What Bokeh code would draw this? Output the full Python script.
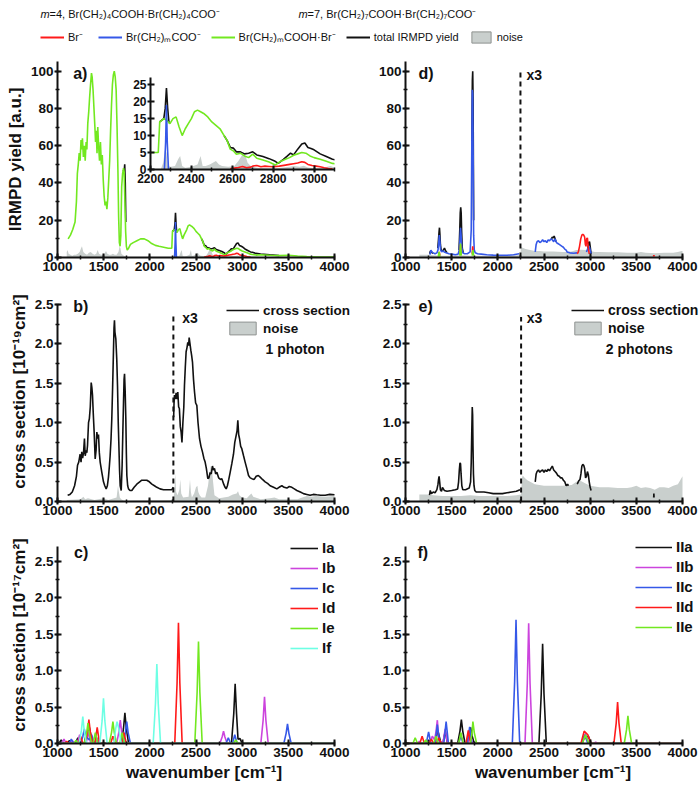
from bokeh.plotting import figure
from bokeh.models import (Range1d, SingleIntervalTicker, Label, Legend, LegendItem,
                          PrintfTickFormatter)
from bokeh.layouts import row, column
from bokeh.embed import file_html
from bokeh.resources import INLINE

# ------------------------------------------------------------------ data
# panel a) m=4 IRMPD yield (also shown in the inset)
A_GREEN_X = [1115, 1140, 1165, 1190, 1205, 1215, 1225, 1235, 1245, 1255,
             1262, 1270, 1280, 1290, 1300, 1310, 1318, 1328, 1338, 1348,
             1358, 1368, 1375, 1385, 1395, 1405, 1412, 1420, 1428, 1436,
             1445, 1455, 1465, 1475, 1485, 1495, 1505, 1515, 1525, 1535,
             1545, 1555, 1565, 1575, 1585, 1595, 1605, 1615, 1625, 1635,
             1645, 1655, 1662, 1670, 1678, 1686, 1695, 1705, 1715, 1722,
             1730, 1738, 1746, 1755, 1770, 1790, 1820, 1860, 1900, 1940,
             1980, 2020, 2060, 2100, 2150, 2200, 2238, 2245, 2255, 2265,
             2280, 2295, 2310, 2325, 2340, 2355, 2370, 2385, 2400, 2415,
             2430, 2445, 2460, 2480, 2500, 2520, 2540, 2560, 2575, 2590,
             2605, 2620, 2640, 2660, 2680, 2700, 2720, 2750, 2780, 2810,
             2830, 2860, 2880, 2900, 2920, 2940, 2960, 2980, 3000, 3030,
             3060, 3090, 3110, 3150, 3200, 3300, 3400, 3500, 3600, 3700,
             3800, 3900, 4000]
A_GREEN_Y = [10, 12, 15, 19, 30, 45, 50, 56, 52, 63,
             58, 64, 54, 60, 52, 62, 58, 72, 78, 86,
             93, 99, 97, 90, 80, 70, 62, 68, 56, 70,
             60, 52, 62, 50, 55, 42, 33, 28, 30, 26,
             32, 42, 52, 68, 82, 93, 98, 100, 97, 90,
             70, 45, 22, 8, 6, 12, 38, 45, 48, 46,
             30, 14, 6, 4, 5, 7, 8, 9, 10, 10,
             9, 7.5, 6.5, 6, 5.5, 5, 5, 14, 14.5, 15,
             14.5, 13.5, 15, 15.5, 12.5, 10, 12, 13.5, 15, 17,
             17.5, 17, 16.5, 15.5, 14, 13, 12, 10, 8.5, 6,
             5.5, 4.5, 4.8, 4, 3.5, 4.5, 3.3, 2.8, 2.2, 1.3,
             2.2, 3, 3.5, 4.2, 4.6, 5, 4.8, 4, 3.5, 3,
             2.4, 1.8, 1.6, 1.3, 1.5, 1.2, 1.0, 1.2, 0.8, 0.5,
             0.3, 0.3, 0.3]
A_TOTAL_X = [[1712, 1722, 1728, 1734, 1740],
             [2245, 2265, 2272, 2278, 2284, 2290, 2295],
             [2560, 2575, 2590, 2605, 2620, 2640, 2660, 2680, 2700, 2720, 2750, 2780,
              2810, 2825, 2850, 2870, 2885, 2900, 2920, 2940, 2955, 2970, 2985, 3000,
              3030, 3060, 3090, 3110, 3150, 3200, 3300, 3400]]
A_TOTAL_Y = [[47, 46, 50, 40, 19],
             [14, 15, 18, 24, 18, 14, 13.5],
             [10, 8.5, 6.5, 6.3, 5.2, 5.2, 4.6, 4.8, 5.2, 4.3, 3.8, 3.2,
              2.4, 1.8, 3, 4, 4.8, 4.3, 6, 7.5, 7.8, 6.5, 6.2, 5.8,
              4.6, 3.8, 3.0, 2.8, 2.2, 1.9, 1.4, 1.1]]
A_BLUE_X = [2268, 2274, 2278, 2282, 2288]
A_BLUE_Y = [0, 8, 19, 8, 0]
A_RED_X = [2590, 2610, 2630, 2650, 2670, 2690, 2700, 2720, 2740, 2760, 2780, 2800, 2830,
           2860, 2880, 2900, 2920, 2940, 2955, 2970, 2990, 3010, 3030, 3050, 3070, 3090]
A_RED_Y = [0.2, 0.4, 0.6, 0.9, 0.5, 0.7, 1.0, 1.2, 0.8, 1.0, 0.9, 0.8, 1.0,
           1.3, 1.5, 1.7, 1.9, 2.3, 2.1, 1.5, 1.2, 1.0, 0.8, 0.5, 0.3, 0.2]
A_NOISE_X = [1100, 1110, 1120, 1140, 1160, 1180, 1200, 1220, 1240, 1255,
             1265, 1280, 1300, 1320, 1340, 1360, 1380, 1400, 1420, 1435,
             1450, 1470, 1490, 1510, 1525, 1540, 1560, 1580, 1600, 1620,
             1640, 1660, 1672, 1682, 1692, 1705, 1720, 1740, 1760, 1800,
             2200, 2250, 2262, 2270, 2278, 2285, 2300, 2320, 2335, 2345,
             2355, 2370, 2400, 2430, 2445, 2455, 2470, 2490, 2505, 2520,
             2535, 2550, 2580, 2610, 2630, 2645, 2655, 2665, 2675, 2690,
             2720, 2760, 2800, 2850, 2880, 2900, 2930, 2950, 2970, 3000,
             3050, 3080, 3100, 3150, 3200, 3400, 3600, 3700, 3800, 3900,
             4000]
A_NOISE_Y = [3, 4, 2, 1.5, 1, 1.5, 1.5, 2, 3, 5,
             6, 3, 2, 1.5, 2.5, 3, 2, 1.5, 2, 4,
             2, 1.5, 1.5, 2, 3.5, 2, 1.5, 1.5, 2, 1.5,
             1.5, 3, 6, 5, 2, 1.5, 1, 0.5, 0.3, 0,
             0, 0, 2, 5.5, 5, 1, 0.8, 1, 3, 4,
             1, 0.5, 0.8, 1.5, 4, 1, 1, 1.5, 2, 2.5,
             1.5, 1, 0.8, 1, 2.5, 4, 5, 4, 2, 1,
             0.5, 0.4, 0.3, 0.6, 0.8, 1, 0.8, 1.1, 0.6, 0.4,
             0.6, 1, 0.6, 0.4, 0.3, 0.3, 0.5, 0.6, 0.8, 0.7,
             0.8]

# panel b) m=4 cross section (1 photon); part 2 is scaled x3
B1_X = [1110, 1135, 1160, 1185, 1205, 1217, 1230, 1245, 1255, 1263,
        1272, 1282, 1292, 1300, 1310, 1318, 1325, 1336, 1345, 1355,
        1365, 1372, 1379, 1388, 1397, 1408, 1418, 1426, 1435, 1444,
        1453, 1462, 1480, 1498, 1512, 1527, 1540, 1552, 1562, 1570,
        1580, 1588, 1597, 1606, 1612, 1617, 1622, 1632, 1642, 1650,
        1658, 1664, 1672, 1679, 1690, 1700, 1708, 1715, 1721, 1726,
        1733, 1740, 1746, 1751, 1760, 1769, 1785, 1805, 1830, 1859,
        1890, 1913, 1940, 1967, 1995, 2022, 2050, 2076, 2110, 2148,
        2190, 2238, 2255]
B1_Y = [0.08, 0.09, 0.12, 0.2, 0.32, 0.46, 0.5, 0.6, 0.5, 0.63,
        0.55, 0.62, 0.8, 0.58, 0.65, 0.62, 0.71, 1.0, 1.05, 1.2,
        1.51, 1.45, 1.35, 1.1, 0.88, 0.54, 0.65, 0.88, 0.8, 0.85,
        0.62, 0.5, 0.37, 0.25, 0.2, 0.16, 0.2, 0.31, 0.45, 0.58,
        0.8, 1.05, 1.45, 1.9, 2.2, 2.3, 2.15, 2.06, 1.8, 1.47,
        1.0, 0.75, 0.4, 0.2, 0.14, 0.46, 0.9, 1.26, 1.55, 1.62,
        1.4, 1.05, 0.6, 0.33, 0.2, 0.16, 0.14, 0.14, 0.18, 0.22,
        0.25, 0.27, 0.27, 0.27, 0.25, 0.22, 0.2, 0.18, 0.16, 0.15,
        0.15, 0.15, 0.18]
B2_X = [2258, 2262, 2267, 2275, 2285, 2295, 2303, 2312, 2320, 2330,
        2339, 2348, 2358, 2368, 2375, 2384, 2393, 2402, 2411, 2420,
        2426, 2435, 2444, 2453, 2462, 2473, 2484, 2496, 2509, 2522,
        2538, 2554, 2570, 2585, 2599, 2612, 2628, 2640, 2653, 2665,
        2678, 2689, 2700, 2713, 2726, 2745, 2765, 2780, 2800, 2815,
        2827, 2840, 2855, 2870, 2888, 2906, 2920, 2935, 2945, 2953,
        2962, 2971, 2984, 2996, 3015, 3032, 3050, 3069, 3087, 3105,
        3130, 3152, 3175, 3195, 3220, 3249, 3275, 3303, 3340, 3375,
        3400, 3430, 3455, 3484, 3510, 3538, 3565, 3592, 3630, 3664,
        3700, 3736, 3770, 3808, 3850, 3899, 3950, 4000]
B2_Y = [1.07, 1.25, 1.35, 1.3, 1.38, 1.3, 1.39, 1.2, 1.18, 0.95,
        0.88, 0.75, 1.0, 1.2, 1.47, 1.7, 1.9, 1.95, 2.02, 1.98,
        2.08, 2.0, 1.92, 1.85, 1.77, 1.55, 1.39, 1.25, 1.22, 1.0,
        0.8, 0.7, 0.63, 0.55, 0.5, 0.42, 0.29, 0.3, 0.37, 0.35,
        0.45, 0.4, 0.42, 0.35, 0.37, 0.3, 0.28, 0.29, 0.22, 0.18,
        0.16, 0.2, 0.28, 0.37, 0.48, 0.6, 0.75, 0.84, 0.9, 1.03,
        0.85, 0.8, 0.7, 0.67, 0.58, 0.5, 0.42, 0.33, 0.3, 0.29,
        0.28, 0.32, 0.33, 0.31, 0.28, 0.25, 0.23, 0.2, 0.18, 0.16,
        0.18, 0.2, 0.18, 0.17, 0.19, 0.18, 0.16, 0.14, 0.12, 0.1,
        0.09, 0.08, 0.09, 0.085, 0.08, 0.08, 0.09, 0.085]
B_NOISE_X = [1100, 1250, 1280, 1300, 1330, 1400, 1500, 1550, 1640, 1655,
             1665, 1675, 1690, 1720, 2250, 2265, 2275, 2285, 2300, 2320,
             2330, 2340, 2360, 2420, 2435, 2445, 2455, 2480, 2500, 2515,
             2525, 2540, 2560, 2600, 2630, 2645, 2660, 2672, 2685, 2700,
             2750, 2800, 2850, 2900, 2940, 2955, 2970, 3000, 3050, 3080,
             3100, 3120, 3200, 3300, 3350, 3400, 3600, 3650, 3700, 3750,
             3800, 3900, 4000]
B_NOISE_Y = [0.02, 0.03, 0.06, 0.03, 0.04, 0.02, 0.04, 0.02, 0.05, 0.2,
             0.12, 0.05, 0.03, 0.01, 0.02, 0.1, 0.36, 0.12, 0.08, 0.15,
             0.28, 0.1, 0.05, 0.06, 0.28, 0.12, 0.05, 0.1, 0.18, 0.2,
             0.12, 0.08, 0.05, 0.05, 0.2, 0.35, 0.45, 0.42, 0.25, 0.08,
             0.04, 0.05, 0.06, 0.09, 0.1, 0.13, 0.08, 0.05, 0.04, 0.08,
             0.1, 0.06, 0.03, 0.04, 0.05, 0.03, 0.03, 0.05, 0.07, 0.06,
             0.07, 0.06, 0.07]

# panel c) computed spectra, m=4 isomers
IA_X = [1000, 1015, 1040, 1065, 1105, 1130, 1155, 1195, 1220, 1245, 1290, 1310, 1345, 1370, 1395,
        1420, 1445, 1690, 1715, 1730, 1745, 1770, 2884, 2909, 2924, 2939, 2955, 2975, 3000, 4000]
IA_Y = [0, 0, 0.05, 0, 0, 0.04, 0, 0, 0.08, 0, 0, 0.12, 0.22, 0.06, 0,
        0.06, 0, 0, 0.21, 0.42, 0.21, 0, 0, 0.41, 0.82, 0.41, 0.06, 0.07, 0, 0]
IB_X = [1000, 1045, 1070, 1095, 1135, 1160, 1185, 1215, 1240, 1265, 1310, 1335, 1360, 1405, 1430, 1455,
        1640, 1665, 1680, 1695, 1720, 2758, 2783, 2798, 2813, 2838, 3202, 3227, 3242, 3257, 3282, 4000]
IB_Y = [0, 0, 0.06, 0, 0, 0.04, 0, 0, 0.12, 0, 0, 0.16, 0, 0, 0.08, 0,
        0, 0.16, 0.32, 0.16, 0, 0, 0.09, 0.17, 0.09, 0, 0, 0.32, 0.64, 0.32, 0, 0]
IC_X = [1000, 1125, 1150, 1175, 1250, 1275, 1290, 1305, 1345, 1370, 1395, 1710, 1735, 1750,
        1765, 1790, 2825, 2850, 2875, 2895, 2920, 2945, 3451, 3476, 3491, 3506, 3531, 4000]
IC_Y = [0, 0, 0.06, 0, 0, 0.1, 0.2, 0.1, 0.05, 0.12, 0, 0, 0.15, 0.3,
        0.15, 0, 0, 0.08, 0, 0, 0.12, 0, 0, 0.14, 0.27, 0.14, 0, 0]
ID_X = [1000, 1075, 1100, 1125, 1225, 1250, 1275, 1300, 1325, 1340, 1355, 1380, 1405, 1430,
        1455, 1575, 1600, 1625, 1695, 1720, 1745, 2270, 2295, 2310, 2325, 2350, 4000]
ID_Y = [0, 0, 0.03, 0, 0, 0.1, 0, 0, 0.16, 0.33, 0.16, 0, 0, 0.22,
        0, 0, 0.1, 0, 0, 0.15, 0, 0, 0.83, 1.66, 0.83, 0, 0]
IE_X = [1000, 1175, 1200, 1225, 1290, 1315, 1330, 1345, 1370, 1385, 1410, 1435, 1560, 1585, 1600,
        1615, 1640, 1675, 1700, 1725, 2487, 2512, 2527, 2542, 2567, 2905, 2930, 2955, 4000]
IE_Y = [0, 0, 0.04, 0, 0, 0.14, 0.28, 0.14, 0, 0, 0.15, 0, 0, 0.15, 0.3,
        0.15, 0, 0, 0.15, 0, 0, 0.7, 1.40, 0.7, 0, 0, 0.05, 0, 0]
IF_X = [1000, 1234, 1259, 1274, 1289, 1314, 1458, 1483, 1498, 1513, 1538,
        1610, 1630, 1645, 1665, 1690, 2036, 2061, 2076, 2091, 2116, 4000]
IF_Y = [0, 0, 0.18, 0.37, 0.18, 0, 0, 0.31, 0.62, 0.31, 0,
        0, 0.2, 0.3, 0.2, 0, 0, 0.55, 1.09, 0.55, 0, 0]

# panel d) m=7 IRMPD yield
D_BLUE_X = [[1265, 1275, 1285, 1300, 1320, 1340, 1352, 1360, 1366, 1372,
             1380, 1392, 1405, 1420, 1440, 1470, 1500, 1540, 1570, 1582,
             1590, 1596, 1602, 1610, 1620, 1640, 1670, 1700, 1712, 1718,
             1723, 1728, 1733, 1738, 1745, 1755, 1780, 1820, 1880, 1950,
             2020, 2100, 2170, 2230],
            [2405, 2415, 2425, 2440, 2455, 2470, 2485, 2500, 2515, 2530, 2545, 2560, 2575,
             2590, 2605, 2620, 2635, 2650, 2665, 2680, 2695, 2710, 2725, 2740, 2750,
             2780, 2820, 2860],
            [2960, 2975, 2990, 3000, 3010]]
D_BLUE_Y = [[1.5, 4, 3, 2.5, 2, 2.5, 4, 8, 12, 9,
             4, 3, 3.5, 3, 2.5, 2, 1.8, 1.5, 1.8, 4,
             10, 16, 12, 5, 2.5, 2, 2, 3, 15, 60,
             90, 88, 55, 12, 4, 2.5, 2, 1.8, 1.5, 1.3,
             1.2, 1.2, 1.5, 2],
            [3, 7, 8.5, 9, 8, 8.5, 9.5, 8.5, 9, 8, 9.5, 9, 10,
             9.5, 8.5, 10, 8, 7.5, 7, 6.5, 6, 5.5, 4.5, 4, 3,
             2.5, 2.3, 2.5],
            [3, 5, 6, 4, 2]]
D_TOTAL_X = [[1262, 1270, 1280, 1290, 1300],
             [1350, 1358, 1364, 1368, 1372, 1378, 1386, 1395, 1410, 1422, 1435, 1450],
             [1580, 1588, 1593, 1598, 1603, 1608, 1615, 1625],
             [1718, 1724, 1728, 1732, 1738],
             [2580, 2590, 2600, 2610, 2620, 2630],
             [2975, 2985, 2993, 3000, 3010]]
D_TOTAL_Y = [[2, 3.5, 3, 2.5, 2.5],
             [5, 10, 14, 16, 13, 7, 4, 3.5, 4, 5, 3.5, 2.5],
             [4, 15, 24, 27, 24, 14, 5, 2.5],
             [60, 95, 100, 85, 20],
             [10, 11, 10.5, 11.5, 10, 8.5],
             [5, 8, 8.5, 6, 2]]
D_RED_X = [[1360, 1366, 1372], [1590, 1596, 1602], [1722, 1728, 1734],
           [2860, 2872, 2885, 2898, 2910, 2920, 2930, 2940, 2948, 2955, 2962, 2970, 2980, 2990],
           [3685, 3690, 3695]]
D_RED_Y = [[1, 3, 1], [2, 7, 2], [2, 6, 2],
           [2, 3, 6, 10, 12, 12.5, 12, 11, 7, 6, 10, 10.5, 5, 2],
           [0.5, 1.2, 0.5]]
D_GREEN_X = [[1355, 1364, 1372], [1588, 1596, 1604], [1722, 1730, 1738]]
D_GREEN_Y = [[0.5, 3, 0.5], [1, 7.5, 1], [1, 4, 1]]
D_NOISE_X = [1150, 1200, 1260, 1300, 1400, 1500, 1600, 1700, 1800, 1900,
             2000, 2100, 2200, 2245, 2250, 2255, 2300, 2350, 2400, 2450,
             2500, 2600, 2700, 2750, 2800, 2850, 2900, 2950, 3000, 3050,
             3100, 3200, 3300, 3400, 3500, 3550, 3600, 3700, 3800, 3900,
             3950, 3990, 4000]
D_NOISE_Y = [1.5, 1.5, 1.5, 1.2, 1.0, 1.0, 1.2, 1.0, 1.0, 1.0,
             1.0, 1.0, 1.2, 1.3, 5.5, 5.5, 4.5, 4, 3.5, 3.5,
             3.2, 3.2, 3, 3, 3.2, 4, 4.2, 4, 3.5, 3,
             3, 2.8, 2.8, 2.6, 2.6, 3, 2.5, 2.3, 2.5, 2.5,
             3, 3.5, 3.5]

# panel e) m=7 cross section (2 photons)
E_X = [[1260, 1268, 1280, 1300, 1320, 1340, 1352, 1358, 1364, 1370,
        1378, 1390, 1400, 1420, 1450, 1500, 1540, 1565, 1575, 1583,
        1590, 1596, 1602, 1610, 1620, 1650, 1690, 1705, 1712, 1718,
        1723, 1727, 1731, 1736, 1742, 1750, 1765, 1800, 1850, 1900,
        1950, 2000, 2050, 2100, 2150, 2200, 2240],
       [2405, 2415, 2425, 2440, 2455, 2470, 2485, 2500, 2515, 2530, 2545, 2560, 2575,
        2590, 2605, 2620, 2635, 2650, 2665, 2680, 2695, 2710, 2725, 2740, 2755, 2765],
       [2860, 2875, 2890, 2900, 2910, 2920, 2930, 2940, 2950, 2960, 2970, 2980, 2990, 3000, 3010],
       [3688, 3690, 3692]]
E_Y = [[0.08, 0.14, 0.1, 0.12, 0.11, 0.15, 0.22, 0.28, 0.32, 0.25,
        0.15, 0.13, 0.18, 0.14, 0.13, 0.14, 0.15, 0.16, 0.25, 0.4,
        0.49, 0.48, 0.35, 0.2, 0.15, 0.15, 0.17, 0.25, 0.5, 0.9,
        1.2, 1.1, 0.7, 0.35, 0.2, 0.14, 0.12, 0.12, 0.12, 0.11,
        0.1, 0.1, 0.1, 0.11, 0.12, 0.13, 0.15],
       [0.25, 0.35, 0.38, 0.4, 0.37, 0.39, 0.4, 0.37, 0.4, 0.38, 0.41, 0.39, 0.42,
        0.45, 0.4, 0.38, 0.36, 0.33, 0.32, 0.3, 0.3, 0.27, 0.25, 0.2, 0.22, 0.2],
       [0.22, 0.26, 0.28, 0.35, 0.45, 0.47, 0.46, 0.42, 0.3, 0.32, 0.38, 0.34, 0.25, 0.18, 0.14],
       [0.05, 0.1, 0.05]]
E_NOISE_X = [1150, 1200, 1260, 1300, 1400, 1500, 1600, 1700, 1800, 1900,
             2000, 2100, 2200, 2250, 2262, 2270, 2290, 2320, 2350, 2400,
             2450, 2500, 2600, 2700, 2800, 2850, 2900, 2950, 3000, 3050,
             3100, 3200, 3300, 3400, 3450, 3500, 3550, 3600, 3650, 3700,
             3750, 3800, 3850, 3900, 3950, 3980, 4000]
E_NOISE_Y = [0.09, 0.09, 0.09, 0.08, 0.07, 0.07, 0.07, 0.08, 0.07, 0.07,
             0.07, 0.07, 0.08, 0.09, 0.3, 0.33, 0.3, 0.27, 0.25, 0.22,
             0.21, 0.2, 0.2, 0.2, 0.21, 0.25, 0.26, 0.23, 0.2, 0.19,
             0.18, 0.18, 0.17, 0.17, 0.18, 0.2, 0.17, 0.18, 0.17, 0.15,
             0.18, 0.18, 0.17, 0.2, 0.22, 0.28, 0.32]

# panel f) computed spectra, m=7 isomers
IIA_X = [1000, 1225, 1250, 1275, 1320, 1350, 1380, 1405, 1430, 1455, 1565, 1590, 1605, 1620, 1645, 1665,
         1690, 1705, 1720, 1745, 2445, 2470, 2485, 2500, 2525, 2910, 2940, 2960, 2980, 3010, 4000]
IIA_Y = [0, 0, 0.05, 0, 0, 0.18, 0.02, 0, 0.17, 0, 0, 0.17, 0.33, 0.17, 0, 0,
         0.11, 0.22, 0.11, 0, 0, 0.68, 1.37, 0.68, 0, 0, 0.09, 0.08, 0.1, 0, 0]
IIB_X = [1000, 1125, 1150, 1175, 1265, 1290, 1315, 1330, 1345, 1360, 1405, 1430, 1455, 1675,
         1700, 1725, 2294, 2319, 2334, 2349, 2374, 2915, 2950, 2985, 3040, 3060, 3080, 4000]
IIB_Y = [0, 0, 0.03, 0, 0, 0.1, 0.05, 0.16, 0.32, 0.05, 0, 0.2, 0, 0,
         0.15, 0, 0, 0.82, 1.65, 0.82, 0, 0, 0.14, 0, 0, 0.02, 0, 0]
IIC_X = [1000, 1225, 1250, 1275, 1320, 1345, 1370, 1415, 1440, 1465, 1575, 1600, 1625,
         1670, 1695, 1720, 2157, 2182, 2197, 2212, 2237, 2905, 2940, 2975, 4000]
IIC_Y = [0, 0, 0.16, 0, 0, 0.26, 0, 0, 0.3, 0, 0, 0.1, 0,
         0, 0.23, 0, 0, 0.85, 1.70, 0.85, 0, 0, 0.12, 0, 0]
IID_X = [1000, 1155, 1180, 1205, 1255, 1280, 1305, 1335, 1360, 1385, 1655, 1680,
         1705, 2900, 2935, 2975, 3010, 3257, 3282, 3297, 3312, 3337, 4000]
IID_Y = [0, 0, 0.1, 0, 0, 0.06, 0, 0, 0.08, 0, 0, 0.18,
         0, 0, 0.17, 0.12, 0, 0, 0.28, 0.57, 0.28, 0, 0]
IIE_X = [1000, 1080, 1105, 1130, 1195, 1220, 1245, 1305, 1330, 1355, 1575, 1600, 1625, 1705,
         1720, 1730, 1745, 1770, 2915, 2950, 2985, 3369, 3394, 3409, 3424, 3449, 4000]
IIE_Y = [0, 0, 0.08, 0, 0, 0.05, 0, 0, 0.1, 0, 0, 0.15, 0, 0,
         0.15, 0.3, 0.15, 0, 0, 0.12, 0, 0, 0.19, 0.38, 0.19, 0, 0]

SCALE_BREAK = 2255          # position of the "x3" dashed line
X_BOUNDS = (1000, 4000)
NAN = float("nan")

# ------------------------------------------------------------------ style
FONT = "Liberation Sans"
RED = "#ff1a1a"
BLUE = "#3558e8"
GREEN = "#72e820"
BLACK = "#111111"
MAGENTA = "#cc44dd"
CYAN = "#6dffe4"
NOISE_FILL = "#c9cfcd"
NOISE_EDGE = "#8e9290"

# frame geometry (pixels)
FRAME_W = 277                     # width of 1000..4000
L_LEFT, R_LEFT = 57, 55           # left borders of the two columns
COL_W = 350
X_END_L = 1000 + (COL_W - L_LEFT) / FRAME_W * 3000
X_END_R = 1000 + (COL_W - R_LEFT) / FRAME_W * 3000


def panel(width, height, xr, yr, ybounds, border, xint, yint, yfmt=None, xlabel=None,
          ylabel=None, tick_size="13.5px", yminor=2, xbounds=X_BOUNDS, xl_size="17px"):
    top, right, bottom, left = border
    p = figure(width=width, height=height, x_range=Range1d(*xr), y_range=Range1d(*yr),
               output_backend="svg", toolbar_location=None, tools="",
               min_border_top=top, min_border_right=right,
               min_border_bottom=bottom, min_border_left=left)
    p.grid.visible = False
    p.outline_line_color = None
    p.background_fill_alpha = 0
    p.border_fill_alpha = 0
    p.xaxis.ticker = SingleIntervalTicker(interval=xint, num_minor_ticks=2)
    p.yaxis.ticker = SingleIntervalTicker(interval=yint, num_minor_ticks=yminor)
    p.xaxis.bounds = xbounds
    p.yaxis.bounds = ybounds
    if yfmt:
        p.yaxis.formatter = PrintfTickFormatter(format=yfmt)
    for ax in p.axis:
        ax.axis_line_width = 2
        ax.axis_line_color = BLACK
        ax.major_tick_line_width = 2
        ax.major_tick_line_color = BLACK
        ax.minor_tick_line_width = 1.5
        ax.minor_tick_line_color = BLACK
        ax.major_tick_in = 4
        ax.major_tick_out = 3
        ax.minor_tick_in = 2
        ax.minor_tick_out = 2
        ax.major_label_text_font = FONT
        ax.major_label_text_font_style = "bold"
        ax.major_label_text_font_size = tick_size
        ax.major_label_text_color = BLACK
        ax.major_label_standoff = 1
        ax.axis_label_text_font = FONT
        ax.axis_label_text_font_style = "bold"
        ax.axis_label_text_font_size = "17px"
        ax.axis_label_text_color = BLACK
        ax.axis_label_standoff = 3
    if xlabel:
        p.xaxis.axis_label = xlabel
        p.xaxis.axis_label_text_font_size = xl_size
        p.xaxis.axis_label_standoff = 3
    if ylabel:
        p.yaxis.axis_label = ylabel
    return p


def note(p, x, y, text, size="15px", style="bold"):
    p.add_layout(Label(x=x, y=y, text=text, text_font=FONT, text_font_size=size,
                       text_font_style=style, text_baseline="middle", text_align="left",
                       text_color=BLACK))


def add_legend(p, items, loc, glyph_w, size, spacing, style="bold", orientation="vertical",
               gh=16, lh=16):
    lg = Legend(items=items, location=loc, orientation=orientation,
                label_text_font=FONT, label_text_font_size=size, label_text_font_style=style,
                label_text_color=BLACK,
                glyph_width=glyph_w, glyph_height=gh, label_height=lh, label_standoff=4,
                spacing=spacing, padding=0, margin=0, border_line_color=None,
                background_fill_alpha=0)
    p.add_layout(lg)


LW = 1.6

# ------------------------------------------------------------------ header
HDR_H = 50
hdr = figure(width=2 * COL_W, height=HDR_H, x_range=Range1d(0, 2 * COL_W),
             y_range=Range1d(HDR_H, 0),
             output_backend="svg", toolbar_location=None, tools="", min_border=0,
             x_axis_type=None, y_axis_type=None)
hdr.outline_line_color = None
hdr.background_fill_alpha = 0
hdr.border_fill_alpha = 0
for x0, txt in ((40, "=4, Br(CH\u2082)\u2084COOH\u00b7Br(CH\u2082)\u2084COO\u207b"),
                (298, "=7, Br(CH\u2082)\u2087COOH\u00b7Br(CH\u2082)\u2087COO\u207b")):
    hdr.add_layout(Label(x=x0, y=13, text="m", text_font=FONT, text_font_size="11px",
                         text_font_style="italic", text_baseline="middle", text_color=BLACK))
    hdr.add_layout(Label(x=x0 + 9, y=13, text=txt, text_font=FONT, text_font_size="11px",
                         text_font_style="normal", text_baseline="middle", text_color=BLACK))
h_red = hdr.line(x=[NAN, NAN], y=[NAN, NAN], line_color=RED, line_width=2)
h_blue = hdr.line(x=[NAN, NAN], y=[NAN, NAN], line_color=BLUE, line_width=2)
h_green = hdr.line(x=[NAN, NAN], y=[NAN, NAN], line_color=GREEN, line_width=2)
h_black = hdr.line(x=[NAN, NAN], y=[NAN, NAN], line_color=BLACK, line_width=2)
h_noise = hdr.quad(left=[NAN], right=[NAN], top=[NAN], bottom=[NAN], fill_color=NOISE_FILL,
                   line_color=NOISE_EDGE)
add_legend(hdr, [LegendItem(label="Br\u207b", renderers=[h_red]),
                 LegendItem(label="Br(CH\u2082)\u2098COO\u207b", renderers=[h_blue]),
                 LegendItem(label="Br(CH\u2082)\u2098COOH\u00b7Br\u207b", renderers=[h_green]),
                 LegendItem(label="total IRMPD yield", renderers=[h_black]),
                 LegendItem(label="noise", renderers=[h_noise])],
           (40, 6), 24, "11px", 10, style="normal", orientation="horizontal", gh=14, lh=14)

# ------------------------------------------------------------------ panel a
A_TOP = 196 / 1.863
pa = panel(COL_W, 230, (1000, X_END_L), (0, A_TOP), (0, 105), (11, 0, 23, L_LEFT), 500, 20,
           ylabel="IRMPD yield [a.u.]")
pa.varea(x=A_NOISE_X, y1=0, y2=A_NOISE_Y, fill_color=NOISE_FILL)
pa.multi_line(xs=A_TOTAL_X, ys=A_TOTAL_Y, line_color=BLACK, line_width=LW)
pa.line(A_GREEN_X, A_GREEN_Y, line_color=GREEN, line_width=LW)
pa.line(A_BLUE_X, A_BLUE_Y, line_color=BLUE, line_width=LW)
pa.line(A_RED_X, A_RED_Y, line_color=RED, line_width=LW)
note(pa, 1170, 99, "a)", size="16px")

# inset of panel a (placed over panel a)
ins = panel(215, 126, (2200, 3100), (0, 27.1), (0, 27.1), (3, 3, 20, 28), 200, 5,
            tick_size="12px", yminor=1, xbounds=(2200, 3100))
ins.yaxis.minor_tick_line_color = None
ins.varea(x=A_NOISE_X, y1=0, y2=A_NOISE_Y, fill_color=NOISE_FILL)
ins.multi_line(xs=A_TOTAL_X, ys=A_TOTAL_Y, line_color=BLACK, line_width=LW)
ins.line(A_GREEN_X, A_GREEN_Y, line_color=GREEN, line_width=LW)
ins.line(A_BLUE_X, A_BLUE_Y, line_color=BLUE, line_width=LW)
ins.line(A_RED_X, A_RED_Y, line_color=RED, line_width=LW)
ins.styles = {"position": "absolute", "left": "122px", "top": "16px"}

# ------------------------------------------------------------------ panel d
pd_ = panel(COL_W, 230, (1000, X_END_R), (0, A_TOP), (0, 105), (11, 0, 23, R_LEFT), 500, 20)
pd_.varea(x=D_NOISE_X, y1=0, y2=D_NOISE_Y, fill_color=NOISE_FILL)
pd_.multi_line(xs=D_TOTAL_X, ys=D_TOTAL_Y, line_color=BLACK, line_width=LW)
pd_.multi_line(xs=D_BLUE_X, ys=D_BLUE_Y, line_color=BLUE, line_width=LW)
pd_.multi_line(xs=D_RED_X, ys=D_RED_Y, line_color=RED, line_width=LW)
pd_.multi_line(xs=D_GREEN_X, ys=D_GREEN_Y, line_color=GREEN, line_width=LW)
pd_.segment(x0=[SCALE_BREAK - 10], y0=[0], x1=[SCALE_BREAK - 10], y1=[100],
            line_color=BLACK, line_width=2, line_dash="5 4")
note(pd_, 1141, 99, "d)", size="16px")
note(pd_, 2311, 98, "x3", size="14px")

# ------------------------------------------------------------------ panels b / e
B_TOP = 2.5 * 220 / 197
pb = panel(COL_W, 245, (1000, X_END_L), (0, B_TOP), (0, 2.5), (1, 0, 24, L_LEFT), 500, 0.5,
           yfmt="%.1f", ylabel="cross section [10\u207b\u00b9\u2079cm\u00b2]")
pb.varea(x=B_NOISE_X, y1=0, y2=B_NOISE_Y, fill_color=NOISE_FILL)
b_line = pb.line(B1_X, B1_Y, line_color=BLACK, line_width=LW)
pb.line(B2_X, B2_Y, line_color=BLACK, line_width=LW)
pb.segment(x0=[SCALE_BREAK], y0=[0], x1=[SCALE_BREAK], y1=[2.37],
           line_color=BLACK, line_width=2, line_dash="5 4")
b_noise = pb.quad(left=[NAN], right=[NAN], top=[NAN], bottom=[NAN], fill_color=NOISE_FILL,
                  line_color=NOISE_EDGE)
add_legend(pb, [LegendItem(label="cross section", renderers=[b_line]),
                LegendItem(label="noise", renderers=[b_noise])],
           (169, 165), 33, "13.5px", 2)
note(pb, 1170, 2.47, "b)", size="16px")
note(pb, 2351, 2.33, "x3", size="14px")
note(pb, 3253, 1.94, "1 photon", size="14px")

pe = panel(COL_W, 245, (1000, X_END_R), (0, B_TOP), (0, 2.5), (1, 0, 24, R_LEFT), 500, 0.5,
           yfmt="%.1f")
pe.varea(x=E_NOISE_X, y1=0, y2=E_NOISE_Y, fill_color=NOISE_FILL)
e_line = pe.multi_line(xs=E_X, ys=E_Y, line_color=BLACK, line_width=LW)
pe.segment(x0=[SCALE_BREAK - 3], y0=[0], x1=[SCALE_BREAK - 3], y1=[2.34],
           line_color=BLACK, line_width=2, line_dash="5 4")
e_noise = pe.quad(left=[NAN], right=[NAN], top=[NAN], bottom=[NAN], fill_color=NOISE_FILL,
                  line_color=NOISE_EDGE)
add_legend(pe, [LegendItem(label="cross section", renderers=[e_line]),
                LegendItem(label="noise", renderers=[e_noise])],
           (166, 165), 33, "14px", 2)
note(pe, 1141, 2.47, "e)", size="16px")
note(pe, 3170, 1.94, "2 photons", size="14px")
note(pe, 2314, 2.33, "x3", size="14px")

# ------------------------------------------------------------------ panels c / f
C_TOP = 217 / 72.8
pc = panel(COL_W, 266, (1000, X_END_L), (0, C_TOP), (0, 2.7), (1, 0, 48, L_LEFT), 500, 0.5,
           yfmt="%.1f", xlabel="wavenumber [cm\u207b\u00b9]",
           ylabel="cross section [10\u207b\u00b9\u2077cm\u00b2]")
c_series = [("Ia", IA_X, IA_Y, BLACK), ("Ib", IB_X, IB_Y, MAGENTA), ("Ic", IC_X, IC_Y, BLUE),
            ("Id", ID_X, ID_Y, RED), ("Ie", IE_X, IE_Y, GREEN), ("If", IF_X, IF_Y, CYAN)]
c_items = []
for name, xs, ys, col in c_series:
    r = pc.line(xs, ys, line_color=col, line_width=LW)
    c_items.append(LegendItem(label=name, renderers=[r]))
add_legend(pc, c_items, (233, 87), 28, "15px", 3)
note(pc, 1180, 2.63, "c)", size="16px")

pf = panel(COL_W, 266, (1000, X_END_R), (0, C_TOP), (0, 2.7), (1, 0, 48, R_LEFT), 500, 0.5,
           yfmt="%.1f", xlabel="wavenumber [cm\u207b\u00b9]")
f_series = [("IIa", IIA_X, IIA_Y, BLACK), ("IIb", IIB_X, IIB_Y, MAGENTA),
            ("IIc", IIC_X, IIC_Y, BLUE), ("IId", IID_X, IID_Y, RED), ("IIe", IIE_X, IIE_Y, GREEN)]
f_items = []
for name, xs, ys, col in f_series:
    r = pf.line(xs, ys, line_color=col, line_width=LW)
    f_items.append(LegendItem(label=name, renderers=[r]))
add_legend(pf, f_items, (230, 108), 37, "15px", 3)
note(pf, 1130, 2.63, "f)", size="16px")

top_row = row(pa, pd_, ins)
top_row.styles = {"position": "relative"}
layout = column(hdr, top_row, row(pb, pe), row(pc, pf))
p = layout
open("out.html", "w").write(file_html(p, INLINE))
